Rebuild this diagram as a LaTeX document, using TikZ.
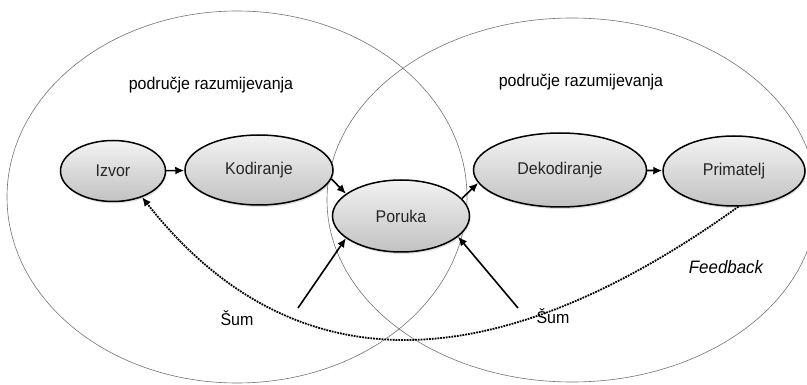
\documentclass[tikz,border=0pt]{standalone}
\usepackage{fontspec}
\setmainfont{Liberation Sans}[FakeStretch=0.94]
\usetikzlibrary{shapes.geometric,arrows.meta,shadows}
\tikzset{
    faza/.style 2 args={ellipse,draw=black,line width=1.5pt,top color=black!5,bottom color=black!24,
        minimum width=#1pt,minimum height=#2pt,inner sep=0pt,text=black!85,
        drop shadow={opacity=.25,shadow xshift=1pt,shadow yshift=-2pt}},
    strelica/.style={-{Latex[length=9pt,width=8pt]},line width=1.6pt},
    podrucje/.style={draw=black!55,line width=.6pt}
}
\begin{document}
\begin{tikzpicture}[x=1pt,y=-1pt,font=\fontsize{17}{20}\selectfont]
    \useasboundingbox (0,0) rectangle (807,385);
    %dva područja
    \draw[podrucje] (237,197) ellipse [x radius=230pt,y radius=186pt];
    \draw[podrucje] (572,200) ellipse [x radius=245pt,y radius=182pt];
    %faze
    \foreach \n/\x/\y/\w/\h/\t in {izvor/113/171/105/61/Izvor,kodiranje/259/170/148/70/Kodiranje,
        poruka/401/216/137/72/Poruka,dekodiranje/560/170/173/74/Dekodiranje,primatelj/734/171/142/70/Primatelj}
        \node[faza={\w}{\h}] (\n) at (\x,\y) {\t};
    \path
    (211,85) node (podL) {područje razumijevanja}
    (581,82) node (podR) {područje razumijevanja}
    (237,318) node (sumL) {Šum}
    (553,316) node (sumR) {Šum}
    (726,267) node[font=\fontsize{18}{21}\selectfont\itshape] (fb) {Feedback};
    \coordinate (s1) at (298,308);
    \coordinate (s2) at (518,308);
    \draw[strelica] (izvor)--(kodiranje);
    \draw[strelica] (kodiranje.-7)--(poruka.158);
    \draw[strelica] (poruka.16)--(dekodiranje.189);
    \draw[strelica] (dekodiranje)--(primatelj);
    \draw[strelica] (s1)--(poruka.202);
    \draw[strelica] (s2)--(poruka.-20);
    \draw[-{Latex[length=9pt,width=8pt]},line width=1.8pt,densely dotted] (primatelj.-83) .. controls (490,385) and (290,385) .. (izvor.-42);
\end{tikzpicture}
\end{document}
